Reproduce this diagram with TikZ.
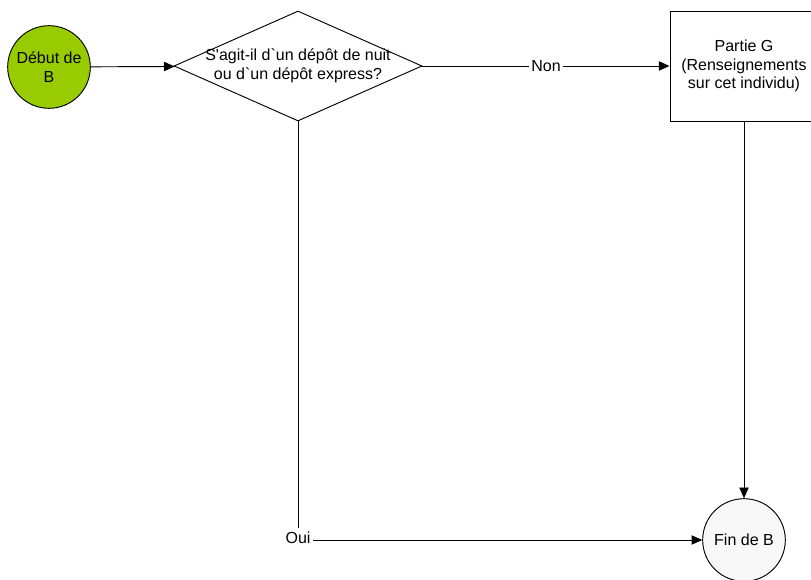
\documentclass[tikz,border=0pt]{standalone}
\usepackage{fontspec}
\setmainfont{Liberation Sans}[Ligatures=TeXOff]
\usetikzlibrary{arrows.meta,%
	shapes.geometric}
\definecolor{startgreen}{RGB}{153,204,0}
\definecolor{endgrey}{RGB}{248,248,248}

\begin{document}
\begin{tikzpicture}[x=0.75pt,y=-0.75pt,line width=0.7pt,font=\fontsize{12}{14}\selectfont,main node/.style={circle,draw,minimum size=62pt,inner sep=0pt,align=center},test node/.style={diamond,draw,minimum width=186pt,minimum height=82.5pt,inner sep=0pt},box node/.style={rectangle,draw,minimum width=111pt,minimum height=82.5pt,align=center},every edge/.style={draw,-{Triangle[length=8pt,width=7pt]}}]
		\useasboundingbox (0,0) rectangle (811,580);
		\node[main node,fill=startgreen] (1) at (49,67) {Début de\\B};
		\node[test node,label={[align=center]center:S'agit-il d`un dépôt de nuit\\ou d`un dépôt express?}] (2) at (298,66) {};
		\node[box node] (3) at (744,66) {Partie G\\(Renseignements\\sur cet individu)};
		\node[main node,fill=endgrey] (4) at (744,540) {Fin de B};
		\path[every node/.style={fill=white,inner xsep=2pt,inner ysep=3pt}]
		(1) edge (2)
		(2) edge node {Non} (3)
		(3) edge (4)
		(2) edge [to path={|- (\tikztotarget) \tikztonodes}] node [pos=0.5,yshift=1.5pt] {Oui} (4);
		\end{tikzpicture}
\end{document}
